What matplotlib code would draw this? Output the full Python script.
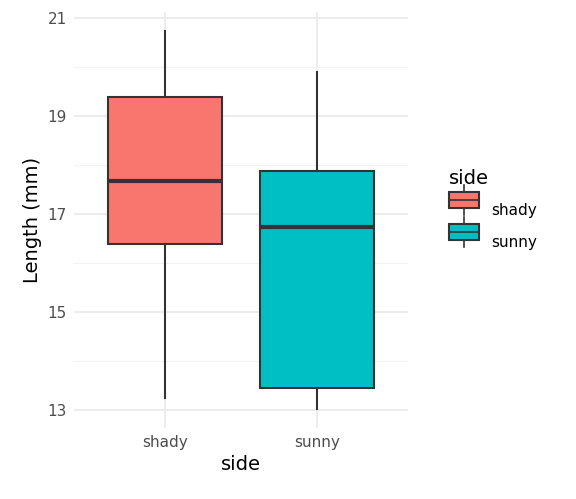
import matplotlib
matplotlib.use('Agg')
import matplotlib.pyplot as plt
from matplotlib.legend_handler import HandlerBase
from matplotlib.patches import Patch, Rectangle
from matplotlib.lines import Line2D

sides = ['shady', 'sunny']
colors = ['#F8766D', '#00BFC4']
whislo = [13.24, 13.02]
q1 = [16.39, 13.45]
med = [17.67, 16.73]
q3 = [19.39, 17.88]
whishi = [20.73, 19.90]

fig = plt.figure(figsize=(5.76, 4.99), dpi=100)
ax = fig.add_axes([74/576, 1-428/499, 334/576, 416/499])

stats = [dict(label=s, whislo=a, q1=b, med=c, q3=d, whishi=e, fliers=[])
         for s, a, b, c, d, e in zip(sides, whislo, q1, med, q3, whishi)]
bp = ax.bxp(stats, positions=[1, 2], widths=0.75, patch_artist=True, showcaps=False,
            boxprops=dict(edgecolor='#333333', linewidth=1.5),
            medianprops=dict(color='#333333', linewidth=3),
            whiskerprops=dict(color='#333333', linewidth=1.5))
for b, c in zip(bp['boxes'], colors):
    b.set_facecolor(c)

ax.set_xlim(0.4, 2.6)
ax.set_ylim(12.63, 21.12)
ax.set_yticks([13, 15, 17, 19, 21])
ax.set_yticks([14, 16, 18, 20], minor=True)
ax.grid(True, which='major', color='#EBEBEB', linewidth=1.3)
ax.grid(True, which='minor', axis='y', color='#F3F3F3', linewidth=0.8)
ax.set_axisbelow(True)
for sp in ax.spines.values():
    sp.set_visible(False)
ax.tick_params(which='both', length=0, labelsize=11, labelcolor='#4D4D4D', pad=5)
ax.set_xlabel('side', fontsize=14)
ax.set_ylabel('Length (mm)', fontsize=14)


class BoxHandler(HandlerBase):
    def create_artists(self, legend, orig, xd, yd, w, h, fs, trans):
        cx = xd + w / 2
        r = Rectangle((xd, yd + h * 0.1), w, h * 0.8, facecolor=orig.get_facecolor(),
                      edgecolor='#333333', linewidth=1.5, transform=trans)
        m = Line2D([xd, xd + w], [yd + h / 2] * 2, color='#333333', linewidth=1.2, transform=trans)
        t = Line2D([cx, cx], [yd + h * 0.9, yd + h * 1.25], color='#333333', linewidth=1.2, transform=trans)
        b = Line2D([cx, cx], [yd + h * 0.1, yd - h * 0.25], color='#333333', linewidth=1.2, transform=trans)
        return [t, b, r, m]


handles = [Patch(facecolor=c, label=s) for c, s in zip(colors, sides)]
leg = fig.legend(handles=handles, title='side', loc='upper left', bbox_to_anchor=(435/576, 1-155/499),
                 frameon=False, fontsize=11, title_fontsize=14, handler_map={Patch: BoxHandler()},
                 handlelength=2.0, handleheight=1.6, labelspacing=0.8, alignment='left')

fig.savefig('out.png')
